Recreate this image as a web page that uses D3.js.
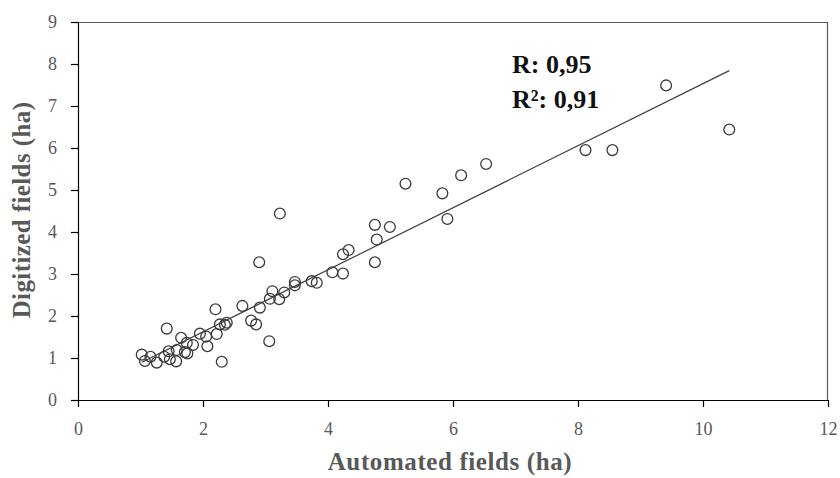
<!DOCTYPE html>
<html>
<head>
<meta charset="utf-8">
<script src="https://cdn.jsdelivr.net/npm/d3@7"></script>
<style>
  body { margin: 0; background: #fff; }
  svg { display: block; }
</style>
</head>
<body>
<svg id="chart" width="840" height="478"></svg>
<script>
// automated field area (ha) vs digitized field area (ha)
const automated = [1.02, 1.07, 1.16, 1.26, 1.42, 1.38, 1.45, 1.47, 1.57, 1.58, 1.65, 1.71, 1.75, 1.74, 1.84,
    1.95, 2.05, 2.07, 2.20, 2.22, 2.27, 2.35, 2.38, 2.30, 2.63, 2.77, 2.85, 2.91, 2.90, 3.06,
    3.23, 3.07, 3.11, 3.22, 3.30, 3.47, 3.47, 3.74, 3.82, 4.07, 4.24, 4.24, 4.33, 4.75, 4.78,
    4.75, 4.99, 5.24, 5.83, 5.91, 6.13, 6.53, 8.12, 8.55, 9.41, 10.42];
const digitized = [1.08, 0.93, 1.03, 0.89, 1.70, 1.03, 1.16, 0.97, 0.92, 1.19, 1.48, 1.14, 1.11, 1.36, 1.31,
    1.58, 1.51, 1.28, 2.16, 1.57, 1.80, 1.79, 1.84, 0.91, 2.24, 1.89, 1.80, 2.20, 3.28, 1.40,
    4.44, 2.41, 2.59, 2.40, 2.56, 2.81, 2.73, 2.83, 2.79, 3.04, 3.01, 3.47, 3.57, 4.17, 3.82,
    3.28, 4.12, 5.15, 4.92, 4.31, 5.35, 5.62, 5.95, 5.95, 7.49, 6.44];
const xTicks = [0, 2, 4, 6, 8, 10, 12];
const yTicks = [0, 1, 2, 3, 4, 5, 6, 7, 8, 9];
const statLabels = ["R: 0,95", "R²: 0,91"];

const svg = d3.select('#chart');
const margin = { left: 78, right: 12, top: 22, bottom: 78 };
const width = 840 - margin.left - margin.right;
const height = 478 - margin.top - margin.bottom;

const x = d3.scaleLinear().domain([0, 12]).range([0, width]);
const y = d3.scaleLinear().domain([0, 9]).range([height, 0]);

const g = svg.append('g').attr('transform', `translate(${margin.left},${margin.top})`);

// frame on top / right
g.append('line').attr('x1', 0).attr('x2', width).attr('y1', 0.5).attr('y2', 0.5)
    .attr('stroke', '#595959').attr('stroke-width', 1.2);
g.append('line').attr('x1', width - 0.5).attr('x2', width - 0.5).attr('y1', 0).attr('y2', height)
    .attr('stroke', '#595959').attr('stroke-width', 1.2);

const serif = 'Liberation Serif, serif';

let xAxis = g.append('g')
    .attr('transform', `translate(0,${height})`)
    .call(d3.axisBottom(x).tickValues(xTicks).tickSize(7).tickSizeOuter(0));
let yAxis = g.append('g')
    .call(d3.axisLeft(y).tickValues(yTicks).tickSize(7).tickSizeOuter(0));

[xAxis, yAxis].forEach(ax => {
    ax.select('.domain').attr('stroke', '#000').attr('stroke-width', 1.2);
    ax.selectAll('.tick line').attr('stroke', '#000').attr('stroke-width', 1.2);
    ax.selectAll('.tick text')
        .attr('fill', '#595959')
        .style('font-family', serif)
        .style('font-size', '18px');
});
xAxis.selectAll('.tick text').attr('y', 22);
yAxis.selectAll('.tick text').attr('x', -21);

// least squares fit
const n = automated.length;
const mx = d3.mean(automated), my = d3.mean(digitized);
let sxy = 0, sxx = 0;
for (let i = 0; i < n; i++) {
    sxy += (automated[i] - mx) * (digitized[i] - my);
    sxx += (automated[i] - mx) * (automated[i] - mx);
}
const slope = sxy / sxx;
const intercept = my - slope * mx;
const xr = d3.extent(automated);

g.append('line')
    .attr('x1', x(xr[0])).attr('y1', y(intercept + slope * xr[0]))
    .attr('x2', x(xr[1])).attr('y2', y(intercept + slope * xr[1]))
    .attr('stroke', '#404040')
    .attr('stroke-width', 1.2);

const pts = automated.map((a, i) => ({ a: a, d: digitized[i] }));
g.selectAll('.pt').data(pts).enter()
    .append('circle')
    .classed('pt', true)
    .attr('cx', d => x(d.a))
    .attr('cy', d => y(d.d))
    .attr('r', 5.4)
    .attr('fill', 'none')
    .attr('stroke', '#3a3a3a')
    .attr('stroke-width', 1.3);

// stats
g.selectAll('.stat').data(statLabels).enter()
    .append('text')
    .classed('stat', true)
    .attr('x', 434)
    .attr('y', (d, i) => 51 + i * 35)
    .attr('fill', '#111')
    .style('font-family', serif)
    .style('font-weight', 'bold')
    .style('font-size', '26px')
    .text(d => d);

// axis titles
svg.append('text')
    .attr('x', margin.left + x(6) - 3)
    .attr('y', 470)
    .attr('text-anchor', 'middle')
    .attr('fill', '#595959')
    .style('font-family', serif)
    .style('font-weight', 'bold')
    .style('font-size', '25px')
    .style('letter-spacing', '0.6px')
    .text('Automated fields (ha)');

svg.append('text')
    .attr('transform', 'translate(30,210) rotate(-90)')
    .attr('text-anchor', 'middle')
    .attr('fill', '#595959')
    .style('font-family', serif)
    .style('font-weight', 'bold')
    .style('font-size', '25px')
    .style('letter-spacing', '0.4px')
    .text('Digitized fields (ha)');
</script>
</body>
</html>
